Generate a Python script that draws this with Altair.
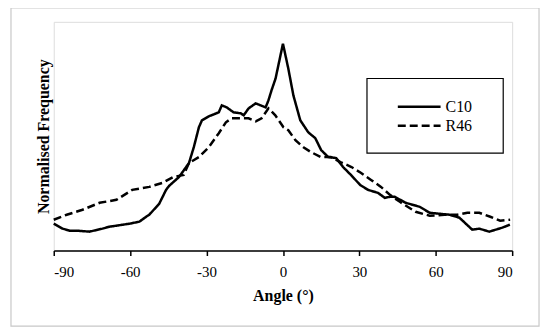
import altair as alt
import pandas as pd

FONT = "Liberation Serif"

series_names = ["C10", "R46"]

c10_angle = [-90, -86.5, -83.8, -81, -76, -70.9, -68.1, -65.4, -60.3, -56.4, -53.7, -52.5,
             -48.6, -45.9, -44.7, -40.8, -36.9, -35, -33, -31.8, -29.1, -27.1, -25.2, -24.0,
             -22.1, -19.4, -16.6, -15.4, -13.5, -10.7, -8.8, -6.8, -5.7, -4.5, -2.9, 0, 2.1,
             4.1, 6.8, 9.9, 12.7, 15.0, 17.8, 20.9, 23.6, 26.7, 30.3, 33.4, 37.3, 40.0, 42.0,
             43.9, 48.2, 53.7, 57.6, 65.4, 69.3, 74.3, 77.1, 81, 86.1, 89.1]
c10_freq = [27, 22, 20, 20, 19, 22, 24, 25, 27, 29, 34, 36,
            47, 61, 65, 74, 88, 104, 124, 131, 135, 137, 139, 146,
            144, 139, 138, 136, 143, 148, 146, 144, 151, 161, 173, 208, 183,
            156, 131, 119, 113, 101, 94, 93, 84, 76, 66, 61, 58, 53, 54,
            54, 48, 44, 38, 36, 33, 21, 22, 19, 23, 26]

r46_angle = [-90, -84.9, -78.7, -72, -65.4, -59.2, -52.5, -47.4, -43.0, -39.0, -36.9, -33,
             -29.1, -25.2, -22.4, -20.1, -17.4, -13.5, -10.7, -8.4, -5.7, -3.0, 0.2, 2.1, 4.9,
             7.9, 11.0, 14.9, 18.8, 22.6, 26.9, 30.7, 34.6, 38.5, 42.0, 45.9, 52.1, 57.6,
             63.4, 68.5, 72.4, 77.1, 81.4, 85.3, 89.2]
r46_freq = [31, 36, 41, 48, 51, 61, 64, 68, 74, 76, 88, 94,
            104, 118, 129, 133, 133, 133, 130, 133, 143, 136, 124, 121, 111,
            104, 99, 94, 94, 89, 84, 78, 71, 64, 56, 49, 39, 35,
            36, 36, 38, 38, 34, 30, 31]

x_ticks = [-90, -60, -30, 0, 30, 60, 90]

df = pd.concat([
    pd.DataFrame({"angle": c10_angle, "freq": c10_freq, "series": "C10"}),
    pd.DataFrame({"angle": r46_angle, "freq": r46_freq, "series": "R46"}),
], ignore_index=True)

W, H = 461, 230
dash_scale = alt.Scale(domain=series_names, range=[[1, 0], [8, 4]])

lines = alt.Chart(df).mark_line(color="black", strokeWidth=2.5).encode(
    x=alt.X("angle:Q", scale=alt.Scale(domain=[-90, 90], nice=False, zero=False),
            axis=alt.Axis(values=x_ticks, title="Angle (°)", grid=False,
                          labelExpr="toString(datum.value)",
                          domainColor="black", domainWidth=1.5, tickColor="black",
                          tickWidth=1.5, tickSize=5, labelPadding=9, labelFontSize=15,
                          labelFont=FONT, labelColor="black", titleFont=FONT,
                          titleFontSize=16, titleFontWeight="bold", titleColor="black",
                          titlePadding=8)),
    y=alt.Y("freq:Q", scale=alt.Scale(domain=[0, 230], nice=False),
            axis=alt.Axis(domain=False, ticks=False, labels=False, grid=False,
                          title="Normalised Frequency", titleFont=FONT, titleFontSize=16,
                          titleFontWeight="bold", titleColor="black", titlePadding=2)),
    strokeDash=alt.StrokeDash("series:N", scale=dash_scale, legend=None),
    detail="series:N",
)

one = pd.DataFrame({"k": [0]})
frame = alt.Chart(one).mark_rect(fillOpacity=0, stroke="#c8c8c8", strokeWidth=1.2).encode(
    x=alt.value(-43), x2=alt.value(488), y=alt.value(-14), y2=alt.value(306))

legend_box = alt.Chart(one).mark_rect(fill="white", stroke="black", strokeWidth=1.2).encode(
    x=alt.value(315), x2=alt.value(452), y=alt.value(57), y2=alt.value(132))

leg_df = pd.DataFrame({"series": series_names})
leg_y = alt.Y("series:N", scale=alt.Scale(domain=series_names, range=[76, 114]), axis=None)
leg_lines = alt.Chart(leg_df).mark_rule(color="black", strokeWidth=2.5).encode(
    x=alt.value(346), x2=alt.value(389), y=leg_y,
    strokeDash=alt.StrokeDash("series:N", scale=dash_scale, legend=None))
leg_text = alt.Chart(leg_df).mark_text(align="left", baseline="middle", font=FONT,
                                       fontSize=16, color="black").encode(
    x=alt.value(394), y=leg_y, text="series:N")

chart = alt.layer(frame, lines, legend_box, leg_lines, leg_text).resolve_scale(
    y="independent"
).properties(
    width=W, height=H,
    autosize=alt.AutoSizeParams(type="none"),
    padding={"left": 46, "top": 13, "right": 30, "bottom": 80},
).configure_view(stroke=None).configure(background="white")

chart.save("out.html", embed_options={"renderer": "svg", "actions": False})
